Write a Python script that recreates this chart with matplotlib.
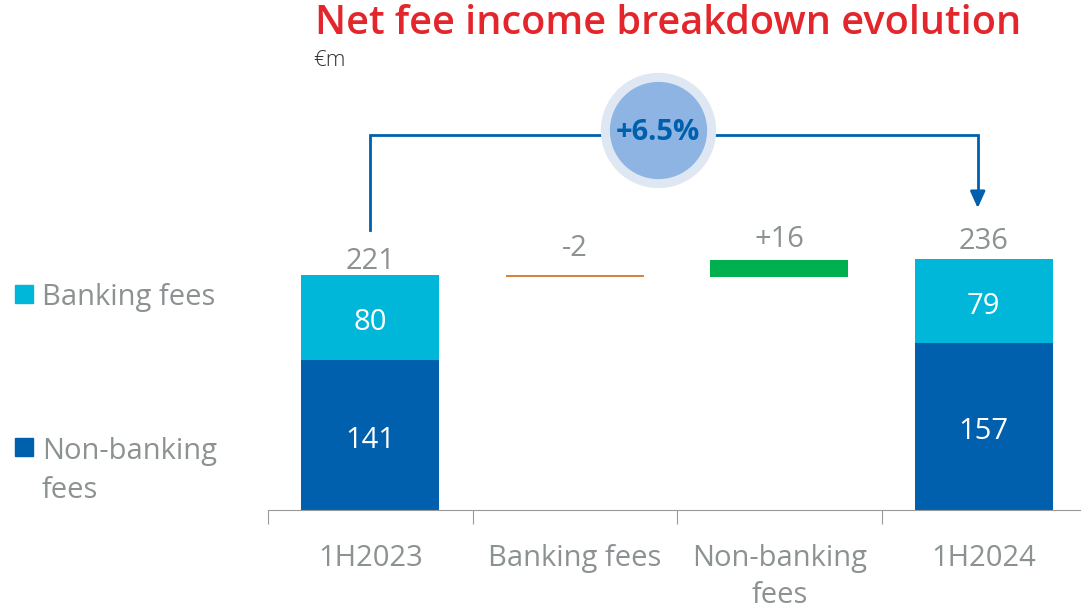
import matplotlib
matplotlib.use("Agg")
import matplotlib.pyplot as plt
from matplotlib.patches import Rectangle

# data
categories = ["1H2023", "Banking fees", "Non-banking\nfees", "1H2024"]
banking = [80, 79]
non_banking = [141, 157]
totals = [221, 236]
deltas = [-2, 16]
delta_labels = ["-2", "+16"]
growth_label = "+6.5%"

dark_blue = "#0060AE"
cyan = "#00B7D9"
green = "#00B04F"
orange = "#D9823B"
grey = "#8C9192"
red = "#E3262B"

plt.rcParams["font.family"] = ["Open Sans", "DejaVu Sans"]

fig = plt.figure(figsize=(10.81, 6.08), dpi=100)
ax = fig.add_axes([268 / 1081, 98 / 608, 812 / 1081, 430 / 608])
ax.set_xlim(-0.5, 3.47)
ax.set_ylim(0, 404.5)

w = 0.674
fs = 21
px = 1 / 1.063  # data units per pixel
dy = 5 * px     # Open Sans sits a bit high with va="center"

# stacked bars for the two periods
for x, b, nb, t in zip([0, 3], banking, non_banking, totals):
    ax.bar(x, nb, width=w, color=dark_blue, zorder=2)
    ax.bar(x, b, bottom=nb, width=w, color=cyan, zorder=2)
    ax.text(x, nb / 2 - dy, str(nb), ha="center", va="center", color="white", fontsize=fs)
    ax.text(x, nb + b / 2 - dy, str(b), ha="center", va="center", color="white", fontsize=fs)
    ax.text(x, t + 17 - dy * (1 if x == 0 else 0), str(t), ha="center", va="center",
            color=grey, fontsize=fs)

# waterfall steps
level = totals[0]
for x, d, lab, c in zip([1, 2], deltas, delta_labels, [orange, green]):
    lo = min(level, level + d)
    ax.bar(x, abs(d), bottom=lo, width=w, color=c, zorder=2)
    ax.text(x, max(level, level + d) + (29 if d < 0 else 23) - 4 * px, lab,
            ha="center", va="center", color=grey, fontsize=fs)
    level += d

# growth bracket
ytop = 353
ax.plot([0, 0, 2.97, 2.97], [263, ytop, ytop, 293], color=dark_blue, lw=2, zorder=3,
        solid_joinstyle="miter")
ax.annotate("", xy=(2.97, 284), xytext=(2.97, 296),
            arrowprops=dict(arrowstyle="-|>,head_width=0.45,head_length=1.0",
                            color=dark_blue, lw=2, shrinkA=0, shrinkB=0), zorder=4)
ax.scatter([1.407], [357.5], s=82 ** 2, color="#DFE7F3", zorder=5, clip_on=False)
ax.scatter([1.407], [357.5], s=69 ** 2, color="#8DB4E3", zorder=6, clip_on=False)
ax.text(1.407, 355, growth_label, ha="center", va="center", color=dark_blue,
        fontsize=21, fontweight="bold", zorder=7)

# axis styling
for s in ["top", "right", "left"]:
    ax.spines[s].set_visible(False)
ax.spines["bottom"].set_color("#999999")
ax.set_yticks([])
ax.set_xticks([-0.5, 0.5, 1.5, 2.5])
ax.set_xticklabels([])
ax.tick_params(axis="x", length=10, color="#999999", direction="out")
for x, lab in enumerate(categories):
    for i, line in enumerate(lab.split("\n")):
        ax.text(x, -(48 + 37 * i) * px, line, ha="center", va="center", color=grey,
                fontsize=fs)

# legend
fig.patches.append(Rectangle((15 / 1081, 1 - 303 / 608), 18 / 1081, 18 / 608,
                             color=cyan, transform=fig.transFigure, figure=fig))
fig.patches.append(Rectangle((15 / 1081, 1 - 456 / 608), 18 / 1081, 18 / 608,
                             color=dark_blue, transform=fig.transFigure, figure=fig))
fig.text(42 / 1081, 1 - 298 / 608, "Banking fees", ha="left", va="center",
         color=grey, fontsize=fs)
fig.text(42 / 1081, 1 - 451 / 608, "Non-banking", ha="left", va="center",
         color=grey, fontsize=fs)
fig.text(42 / 1081, 1 - 490 / 608, "fees", ha="left", va="center",
         color=grey, fontsize=fs)

# titles
fig.text(668 / 1081, 1 - 24 / 608, "Net fee income breakdown evolution", ha="center",
         va="center", color=red, fontsize=28.5, fontweight="semibold")
fig.text(313 / 1081, 1 - 60 / 608, "€m", ha="left", va="center", color="#333333",
         fontsize=16, fontweight="light")

fig.savefig("out.png", dpi=100)
